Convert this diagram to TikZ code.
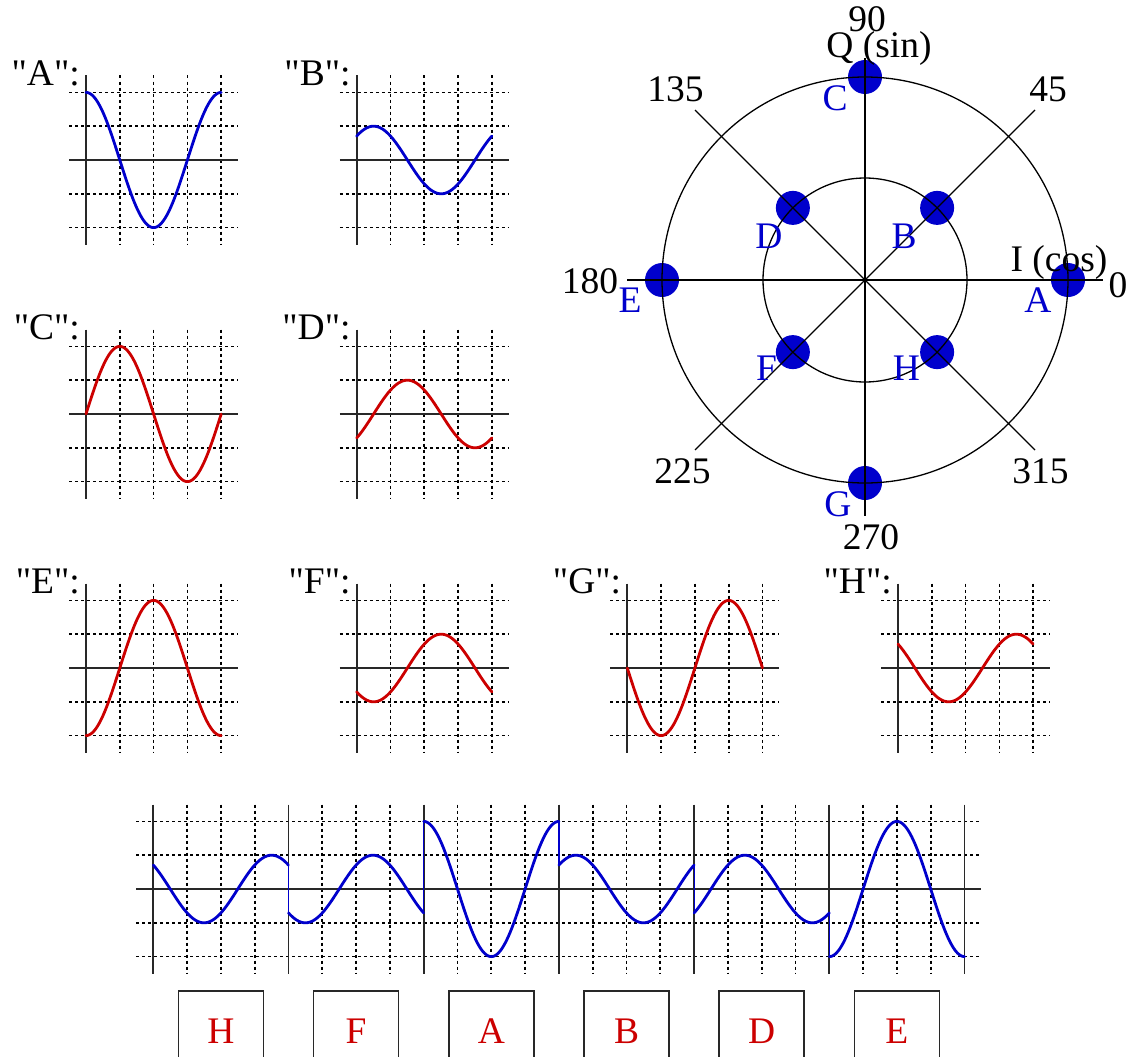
\documentclass[tikz,border=0pt]{standalone}
\usepackage{fontspec}
\setmainfont{Liberation Serif}
\newfontfamily\qfont{Liberation Serif}
\usetikzlibrary{calc}
\definecolor{cblue}{RGB}{0,0,204}
\definecolor{cred}{RGB}{204,0,0}
\definecolor{caxis}{RGB}{40,40,40}
\def\gu{33.8}
\newcommand\sgraph[6]{%
  \foreach \i in {1,...,4} \draw[gridln] ({#1+\i*\gu},{#2-2.5*\gu}) -- ({#1+\i*\gu},{#2+2.5*\gu});
  \foreach \j in {-2,-1,1,2} \draw[gridln] ({#1-0.5*\gu},{#2+\j*\gu}) -- ({#1+4.5*\gu},{#2+\j*\gu});
  \draw[axisln] (#1,{#2-2.5*\gu}) -- (#1,{#2+2.5*\gu});
  \draw[axisln] ({#1-0.5*\gu},#2) -- ({#1+4.5*\gu},#2);
  \draw[curve,#4] plot[domain=0:4,samples=121] ({#1+\x*\gu},{#2-#5*\gu*cos(90*\x-#6)});
  \node[lbl,anchor=base east] (lab#3) at ({#1-6},{#2-75}) {\qfont"#3":};
}
\begin{document}
\begin{tikzpicture}[x=1pt,y=-1pt,
  gridln/.style={line width=1.7pt, dash pattern=on 3pt off 3pt, black},
  axisln/.style={line width=1.8pt, caxis},
  curve/.style={line width=2.8pt, line join=round, line cap=round},
  jump/.style={line width=1.2pt, cblue},
  lbl/.style={font=\fontsize{37.5}{40}\selectfont, inner sep=0pt},
  plbl/.style={font=\fontsize{37.5}{40}\selectfont, inner sep=0pt, text=cblue},
  pline/.style={line width=1.3pt, black},
  dot/.style={circle, fill=cblue, minimum size=34pt, inner sep=0pt, draw=none},
  lbox/.style={draw=caxis, line width=1.6pt, minimum width=85pt, minimum height=80pt, inner sep=0pt, text=cred, font=\fontsize{37.5}{40}\selectfont}
]
\fill[white] (0,0) rectangle (1135,1057);
\useasboundingbox (0,0) rectangle (1135,1057);
\clip (0,0) rectangle (1135,1057);

% small graphs
\sgraph{86}{160}{A}{cblue}{2}{0}
\sgraph{356.7}{160}{B}{cblue}{1}{45}
\sgraph{86}{414}{C}{cred}{2}{90}
\sgraph{356.7}{414}{D}{cred}{1}{135}
\sgraph{86}{668}{E}{cred}{2}{180}
\sgraph{356.7}{668}{F}{cred}{1}{225}
\sgraph{627.3}{668}{G}{cred}{2}{270}
\sgraph{898}{668}{H}{cred}{1}{315}

% polar diagram
\foreach \a/\r/\n in {0/203/A,90/203/C,180/203/E,270/203/G,45/102/B,135/102/D,225/102/F,315/102/H}
  \node[dot] (d\n) at ({865+\r*cos(\a)},{280-\r*sin(\a)}) {};
\draw[pline] (865,280) circle (203);
\draw[pline] (865,280) circle (102);
\draw[pline] (865,58) -- (865,516);
\draw[pline] (627,280) -- (1103,280);
\draw[pline] (695,110) -- (1035,450);
\draw[pline] (695,450) -- (1035,110);
\node[lbl] (n90) at (867,19) {90};
\node[lbl] (nQ) at (879,48) {Q (sin)};
\node[lbl] (n135) at (675.5,89) {135};
\node[lbl] (n45) at (1048,89) {45};
\node[lbl] (n180) at (590,281) {180};
\node[lbl] (nI) at (1059,262) {I (cos)};
\node[lbl] (n0) at (1118,285) {0};
\node[lbl] (n225) at (682.6,471) {225};
\node[lbl] (n315) at (1040.5,471) {315};
\node[lbl] (n270) at (871,537.5) {270};
\node[plbl] (pC) at (835,98) {C};
\node[plbl] (pD) at (769,236) {D};
\node[plbl] (pB) at (904,236) {B};
\node[plbl] (pE) at (630,300) {E};
\node[plbl] (pA) at (1038,300) {A};
\node[plbl] (pF) at (766.5,368) {F};
\node[plbl] (pH) at (906.5,368) {H};
\node[plbl] (pG) at (838,504) {G};

% bottom strip
\def\bx{153.3}
\def\bz{889}
\foreach \k in {1,...,23} {
  \pgfmathtruncatemacro\md{mod(\k,4)}
  \ifnum\md=0\relax\else
    \draw[gridln] ({\bx+\k*\gu},{\bz-2.5*\gu}) -- ({\bx+\k*\gu},{\bz+2.5*\gu});
  \fi
}
\foreach \j in {-2,-1,1,2} \draw[gridln] ({\bx-0.5*\gu},{\bz+\j*\gu}) -- ({\bx+24.5*\gu},{\bz+\j*\gu});
\foreach \k in {0,4,...,24} \draw[axisln] ({\bx+\k*\gu},{\bz-2.5*\gu}) -- ({\bx+\k*\gu},{\bz+2.5*\gu});
\draw[axisln] ({\bx-0.5*\gu},\bz) -- ({\bx+24.5*\gu},\bz);
\foreach \s/\am/\ph in {0/1/315,1/1/225,2/2/0,3/1/45,4/1/135,5/2/180}
  \draw[curve,cblue] plot[domain=0:4,samples=121] ({\bx+(4*\s+\x)*\gu},{\bz-\am*\gu*cos(90*\x-\ph)});
\foreach \s/\va/\vb in {1/0.7071/-0.7071,2/-0.7071/2,3/2/0.7071,4/0.7071/-0.7071,5/-0.7071/-2}
  \draw[jump] ({\bx+4*\s*\gu},{\bz-\va*\gu}) -- ({\bx+4*\s*\gu},{\bz-\vb*\gu});
\foreach \s/\n in {0/H,1/F,2/A,3/B,4/D,5/E}
  \node[lbox] (box\n) at ({\bx+(4*\s+2)*\gu},1031) {\n};
\end{tikzpicture}
\end{document}
